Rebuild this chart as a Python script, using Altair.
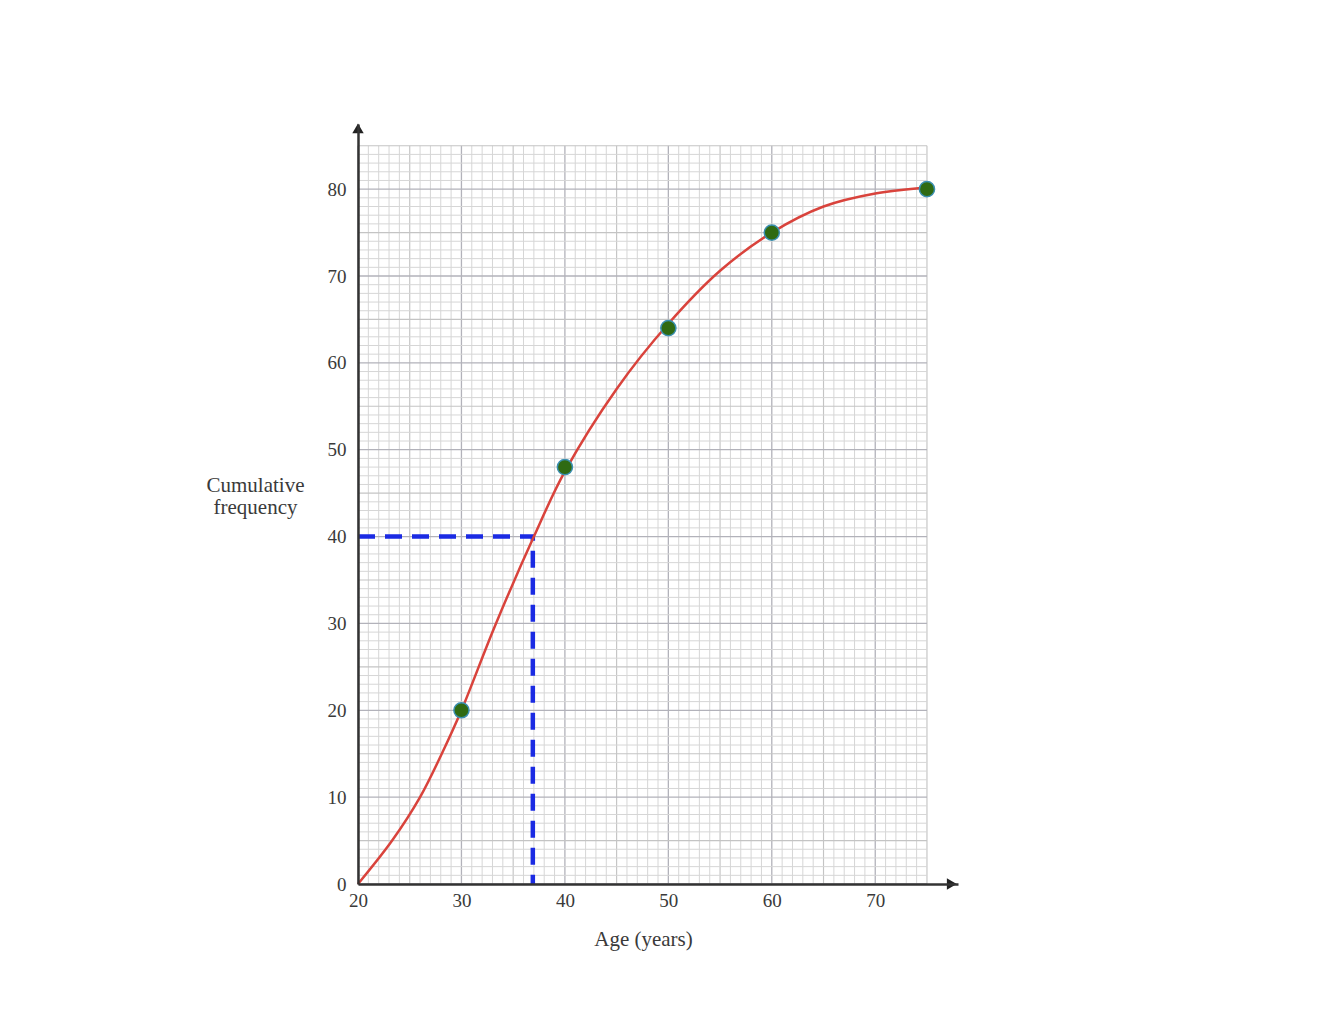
import altair as alt
import pandas as pd

# Data
ages = [30, 40, 50, 60, 75]
cum_freq = [20, 48, 64, 75, 80]

curve_age = [20, 23.3, 26, 28.1, 30, 33.2, 37, 40, 45, 50, 55, 60, 65, 70, 75]
curve_cf = [0, 5, 10, 15, 20, 29.6, 40, 47.5, 57, 64.5, 70.6, 75, 78, 79.5, 80.2]

median_cf = 40
median_age = 36.9

x_ticks = [20, 30, 40, 50, 60, 70]
y_ticks = [0, 10, 20, 30, 40, 50, 60, 70, 80]

X_MIN, X_MAX, X_GRID = 20, 78, 75
Y_MIN, Y_MAX, Y_GRID = 0, 87.5, 85

serif = "Liberation Serif"
txt = "#3a3a3a"

xs = alt.Scale(domain=[X_MIN, X_MAX], nice=False, zero=False)
ys = alt.Scale(domain=[Y_MIN, Y_MAX], nice=False, zero=False)

xa = alt.Axis(
    values=x_ticks, title="Age (years)", grid=False, ticks=False, domainColor="#333333",
    domainWidth=2.5, labelFont=serif, labelFontSize=19, labelColor=txt, labelFlush=False,
    labelPadding=7, titleFont=serif, titleFontSize=21, titleFontWeight="normal",
    titleColor=txt, titleX=285, titleY=55, titleBaseline="middle", zindex=2)
ya = alt.Axis(
    values=y_ticks, title=["Cumulative", "frequency"], grid=False, ticks=False,
    domainColor="#333333", domainWidth=2.5, labelFont=serif, labelFontSize=19,
    labelColor=txt, labelPadding=12, labelFlush=False, titleFont=serif, titleFontSize=21,
    titleFontWeight="normal", titleColor=txt, titleAngle=0, titleAlign="center",
    titleBaseline="top", titleX=-103, titleY=350, titleLineHeight=22, zindex=2)

def X(f):
    return alt.X(f, scale=xs, axis=xa, title="Age (years)")

def Y(f):
    return alt.Y(f, scale=ys, axis=ya, title=["Cumulative", "frequency"])

def kind(v):
    if v % 10 == 0:
        return "major"
    if v % 5 == 0:
        return "mid"
    return "minor"

vgrid = pd.DataFrame({"x": list(range(20, X_GRID + 1))})
vgrid["y"] = 0
vgrid["y2"] = Y_GRID
vgrid["k"] = [kind(v) for v in vgrid["x"]]
hgrid = pd.DataFrame({"y": list(range(0, Y_GRID + 1))})
hgrid["x"] = 20
hgrid["x2"] = X_GRID
hgrid["k"] = [kind(v) for v in hgrid["y"]]

gcolor = alt.Color("k:N", scale=alt.Scale(domain=["minor", "mid", "major"],
                                           range=["#d6d6d6", "#c4c4c4", "#b2b2ba"]), legend=None)
gwidth = alt.StrokeWidth("k:N", scale=alt.Scale(domain=["minor", "mid", "major"],
                                                range=[1, 1.3, 2]), legend=None)

vlines = alt.Chart(vgrid).mark_rule().encode(
    x=X("x:Q"), y=Y("y:Q"), y2="y2:Q", color=gcolor, strokeWidth=gwidth)
hlines = alt.Chart(hgrid).mark_rule().encode(
    y=Y("y:Q"), x=X("x:Q"), x2="x2:Q", color=gcolor, strokeWidth=gwidth)

arrows = pd.DataFrame({"x": [X_MIN, 77.4], "y": [87.0, Y_MIN], "s": ["triangle-up", "triangle-right"]})
arrow_marks = alt.Chart(arrows).mark_point(filled=True, opacity=1, color="#222222", size=130).encode(
    x=X("x:Q"), y=Y("y:Q"),
    shape=alt.Shape("s:N", scale=alt.Scale(domain=["triangle-up", "triangle-right"],
                                           range=["triangle-up", "triangle-right"]), legend=None))

dash_df = pd.DataFrame({"x": [X_MIN, median_age, median_age], "y": [median_cf, median_cf, Y_MIN], "o": [0, 1, 2]})
dashes = alt.Chart(dash_df).mark_line(color="#1b2be3", strokeWidth=4.5, strokeDash=[17, 10]).encode(
    x=X("x:Q"), y=Y("y:Q"), order="o:Q")

curve = alt.Chart(pd.DataFrame({"x": curve_age, "y": curve_cf})).mark_line(
    color="#d9433c", strokeWidth=2.5, interpolate="catmull-rom").encode(
    x=X("x:Q"), y=Y("y:Q"))

pts = alt.Chart(pd.DataFrame({"x": ages, "y": cum_freq})).mark_point(
    filled=True, fill="#2f6a12", stroke="#3b8fb0", strokeWidth=1.5, opacity=1, size=230).encode(
    x=X("x:Q"), y=Y("y:Q"))

chart = alt.layer(vlines, hlines, dashes, curve, pts, arrow_marks).properties(
    width=600, height=760,
    autosize=alt.AutoSizeParams(type="none"),
    padding={"left": 350, "top": 116, "right": 20, "bottom": 120},
    background="white",
).configure_view(stroke=None)

chart.save("out.html", embed_options={"renderer": "svg", "actions": False})
